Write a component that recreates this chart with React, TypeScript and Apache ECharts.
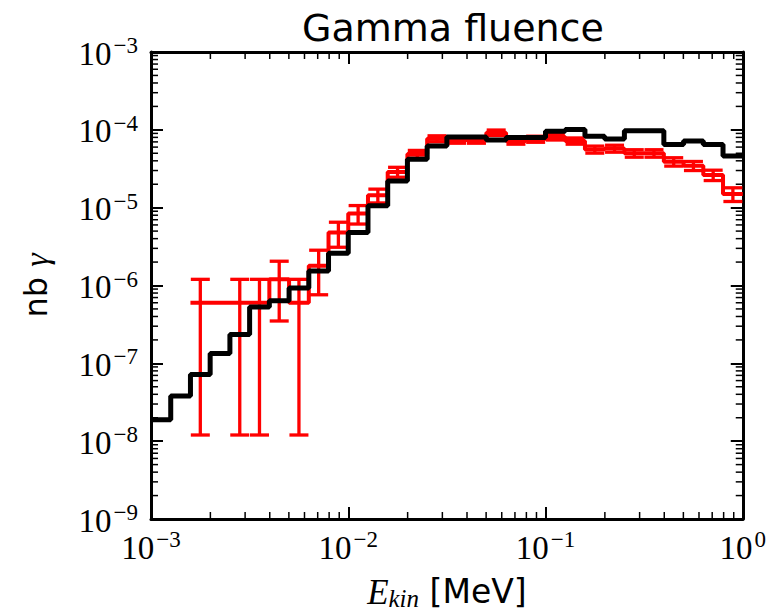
import { useEffect, useRef } from 'react';
import * as echarts from 'echarts';

// Log-spaced bin edges (MeV), 0.1 decade wide
const BIN_EDGES = [
  0.001, 0.001259, 0.001585, 0.001995, 0.002512, 0.003162, 0.003981, 0.005012, 0.00631, 0.007943,
  0.01, 0.01259, 0.01585, 0.01995, 0.02512, 0.03162, 0.03981, 0.05012, 0.0631, 0.07943,
  0.1, 0.1259, 0.1585, 0.1995, 0.2512, 0.3162, 0.3981, 0.5012, 0.631, 0.7943, 1.0,
];

const BLACK_VALUES = [
  1.88e-8, 3.8e-8, 7.2e-8, 1.34e-7, 2.34e-7, 5.3e-7, 6.35e-7, 9.3e-7, 1.53e-6, 2.6e-6,
  4.8e-6, 1.06e-5, 2.2e-5, 4.2e-5, 6.2e-5, 8.1e-5, 8.1e-5, 7.4e-5, 8.0e-5, 8.0e-5,
  9.6e-5, 1.01e-4, 8.3e-5, 7.6e-5, 9.7e-5, 9.7e-5, 6.5e-5, 7.2e-5, 6.5e-5, 4.6e-5,
];

const RED_VALUES: (number | null)[] = [
  null, null, 6e-7, 6e-7, 6e-7, 6e-7, 1.2e-6, 6e-7, 1.8e-6, 4.8e-6,
  8.4e-6, 1.44e-5, 2.88e-5, 4.9e-5, 7.7e-5, 7.4e-5, 7.4e-5, 9.2e-5, 7.2e-5, 7.6e-5,
  8.1e-5, 7.2e-5, 5.6e-5, 5.75e-5, 5.0e-5, 5.0e-5, 3.9e-5, 3.46e-5, 2.63e-5, 1.5e-5,
];

const RED_ERRORS: (number | null)[] = [
  null, null, 6e-7, null, 6e-7, 6e-7, 8.5e-7, 6e-7, 1.04e-6, 1.7e-6,
  2.24e-6, 2.9e-6, 4.2e-6, 5.4e-6, 6.8e-6, 6.7e-6, 6.7e-6, 7.4e-6, 6.6e-6, 6.8e-6,
  7.0e-6, 6.6e-6, 5.8e-6, 5.9e-6, 5.5e-6, 5.5e-6, 4.8e-6, 4.6e-6, 4.0e-6, 3.0e-6,
];

const ERR_FLOOR = 1.2e-8;

const X_MIN = 1e-3;
const X_MAX = 1;
const Y_MIN = 1e-9;
const Y_MAX = 1e-3;

const X_DECADES = [-3, -2, -1];
const Y_DECADES = [-9, -8, -7, -6, -5, -4];
const MINOR_FACTORS = [2, 3, 4, 5, 6, 7, 8, 9];

const TITLE = 'Gamma fluence';

const SERIF = 'Liberation Serif';
const SANS = 'DejaVu Sans';

function expLabel(value: number) {
  const e = Math.round(Math.log10(value));
  const s = e < 0 ? '\u2212' + String(-e) : String(e);
  return '{b|10}{s|' + s + '}';
}

const tickRich = {
  b: { fontFamily: SERIF, fontSize: 33, color: '#000', lineHeight: 36, verticalAlign: 'bottom' },
  s: { fontFamily: SERIF, fontSize: 23, color: '#000', lineHeight: 14, verticalAlign: 'top', padding: [0, 0, 0, 2] },
};

function stepData(vals: (number | null)[]) {
  const out: number[][] = [];
  vals.forEach((v, i) => {
    if (v == null) return;
    out.push([BIN_EDGES[i], v]);
    out.push([BIN_EDGES[i + 1], v]);
  });
  return out;
}

export default function App() {
  const ref = useRef<HTMLDivElement>(null);

  useEffect(() => {
    if (!ref.current) return;
    const chart = echarts.init(ref.current, null, { renderer: 'svg' });

    const errData: number[][] = [];
    RED_VALUES.forEach((v, i) => {
      const e = RED_ERRORS[i];
      if (v == null || e == null) return;
      const c = Math.sqrt(BIN_EDGES[i] * BIN_EDGES[i + 1]);
      const lo = v - e > 0 ? v - e : ERR_FLOOR;
      errData.push([c, lo, v + e]);
    });

    const minorData: number[][] = [];
    X_DECADES.forEach((d) =>
      MINOR_FACTORS.forEach((f) => minorData.push([f * Math.pow(10, d), Y_MIN, 0]))
    );
    Y_DECADES.forEach((d) =>
      MINOR_FACTORS.forEach((f) => minorData.push([X_MIN, f * Math.pow(10, d), 1]))
    );

    const axisLine = { show: true, lineStyle: { color: '#000', width: 3 } };
    const axisTick = { show: true, inside: true, length: 12, lineStyle: { color: '#000', width: 2 } };

    const option: any = {
      animation: false,
      backgroundColor: '#fff',
      title: {
        text: TITLE,
        left: 297,
        top: 4,
        textStyle: { fontFamily: SANS, fontSize: 38, fontWeight: 'normal', color: '#000' },
      },
      grid: { left: 151, top: 52, width: 596, height: 471 },
      xAxis: [
        {
          type: 'log',
          logBase: 10,
          min: X_MIN,
          max: X_MAX,
          splitNumber: 3,
          position: 'bottom',
          axisLine,
          axisTick,
          splitLine: { show: false },
          axisLabel: { show: true, margin: 9, formatter: expLabel, rich: tickRich, hideOverlap: false },
          name: '{e|E}{k|kin}{m| [MeV]}',
          nameLocation: 'middle',
          nameGap: 56,
          nameTextStyle: {
            rich: {
              e: { fontFamily: SERIF, fontStyle: 'italic', fontSize: 35, color: '#000', lineHeight: 36, verticalAlign: 'top' },
              k: { fontFamily: SERIF, fontStyle: 'italic', fontSize: 25, color: '#000', lineHeight: 26, verticalAlign: 'bottom' },
              m: { fontFamily: SANS, fontSize: 33, color: '#000', lineHeight: 36, verticalAlign: 'top' },
            },
          },
        },
        {
          type: 'log',
          logBase: 10,
          min: X_MIN,
          max: X_MAX,
          splitNumber: 3,
          position: 'top',
          axisLine,
          axisTick,
          splitLine: { show: false },
          axisLabel: { show: false },
        },
      ],
      yAxis: [
        {
          type: 'log',
          logBase: 10,
          min: Y_MIN,
          max: Y_MAX,
          splitNumber: 6,
          position: 'left',
          axisLine,
          axisTick,
          splitLine: { show: false },
          axisLabel: { show: true, margin: 13, formatter: expLabel, rich: tickRich, hideOverlap: false },
          name: '{a|nb }{g|\u03b3}',
          nameLocation: 'middle',
          nameRotate: 90,
          nameGap: 98,
          nameTextStyle: {
            rich: {
              a: { fontFamily: SANS, fontSize: 32, color: '#000', lineHeight: 34 },
              g: { fontFamily: SERIF, fontStyle: 'italic', fontSize: 34, color: '#000', lineHeight: 34 },
            },
          },
        },
        {
          type: 'log',
          logBase: 10,
          min: Y_MIN,
          max: Y_MAX,
          splitNumber: 6,
          position: 'right',
          axisLine,
          axisTick,
          splitLine: { show: false },
          axisLabel: { show: false },
        },
      ],
      series: [
        {
          name: 'red',
          type: 'line',
          data: stepData(RED_VALUES),
          symbol: 'none',
          lineStyle: { color: '#ff0000', width: 4 },
          z: 2,
          silent: true,
        },
        {
          name: 'red errors',
          type: 'custom',
          data: errData,
          z: 3,
          silent: true,
          renderItem: (_params: any, api: any) => {
            const c = api.value(0);
            const lo = api.coord([c, api.value(1)]);
            const hi = api.coord([c, api.value(2)]);
            const cap = 9.5;
            const style = { stroke: '#ff0000', lineWidth: 3.3 };
            return {
              type: 'group',
              children: [
                { type: 'line', shape: { x1: lo[0], y1: lo[1], x2: hi[0], y2: hi[1] }, style },
                { type: 'line', shape: { x1: lo[0] - cap, y1: lo[1], x2: lo[0] + cap, y2: lo[1] }, style },
                { type: 'line', shape: { x1: hi[0] - cap, y1: hi[1], x2: hi[0] + cap, y2: hi[1] }, style },
              ],
            };
          },
        },
        {
          name: 'black',
          type: 'line',
          data: stepData(BLACK_VALUES),
          symbol: 'none',
          lineStyle: { color: '#000000', width: 5 },
          z: 4,
          silent: true,
        },
        {
          name: 'minor ticks',
          type: 'custom',
          data: minorData,
          z: 5,
          silent: true,
          clip: false,
          renderItem: (_params: any, api: any) => {
            const kind = api.value(2);
            const len = 7;
            const style = { stroke: '#000', lineWidth: 1.5 };
            if (kind === 0) {
              const x = api.value(0);
              const b = api.coord([x, Y_MIN]);
              const t = api.coord([x, Y_MAX]);
              return {
                type: 'group',
                children: [
                  { type: 'line', shape: { x1: b[0], y1: b[1], x2: b[0], y2: b[1] - len }, style },
                  { type: 'line', shape: { x1: t[0], y1: t[1], x2: t[0], y2: t[1] + len }, style },
                ],
              };
            }
            const y = api.value(1);
            const l = api.coord([X_MIN, y]);
            const r = api.coord([X_MAX, y]);
            return {
              type: 'group',
              children: [
                { type: 'line', shape: { x1: l[0], y1: l[1], x2: l[0] + len, y2: l[1] }, style },
                { type: 'line', shape: { x1: r[0], y1: r[1], x2: r[0] - len, y2: r[1] }, style },
              ],
            };
          },
        },
      ],
    };

    chart.setOption(option);
    return () => chart.dispose();
  }, []);

  return (
    <div
      ref={ref}
      style={{ position: 'absolute', left: 0, top: 0, width: 769, height: 616, background: '#fff' }}
    />
  );
}
